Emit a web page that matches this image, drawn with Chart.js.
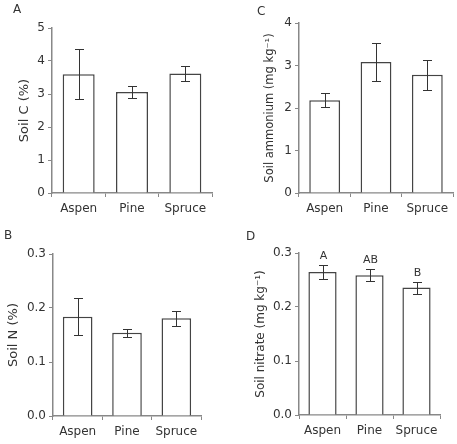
<!DOCTYPE html>
<html>
<head>
<meta charset="utf-8">
<script src="https://cdn.jsdelivr.net/npm/chart.js@4"></script>
<style>
    body { margin: 0; background: #fff; }
    #page { position: relative; width: 457px; height: 444px; font-family: "DejaVu Sans", sans-serif; color: #333; }
    .panel { position: absolute; }
    .letra { position: absolute; font-size: 12px; line-height: 12px; }
</style>
</head>
<body>
<div id="page">
    <canvas id="grafica-a" class="panel" width="228" height="222" style="left:0;top:0"></canvas>
    <canvas id="grafica-c" class="panel" width="229" height="222" style="left:228px;top:0"></canvas>
    <canvas id="grafica-b" class="panel" width="228" height="222" style="left:0;top:222px"></canvas>
    <canvas id="grafica-d" class="panel" width="229" height="222" style="left:228px;top:222px"></canvas>
    <div class="letra" style="left:13px;top:3px">A</div>
    <div class="letra" style="left:257px;top:5px">C</div>
    <div class="letra" style="left:4px;top:229px">B</div>
    <div class="letra" style="left:246px;top:230px">D</div>
</div>
<script>
// datos
const bosques = ["Aspen", "Pine", "Spruce"];

const soilC = [3.6, 3.06, 3.62];
const soilCErr = [0.76, 0.19, 0.23];
const ticksC = [0, 1, 2, 3, 4, 5];

const amonio = [2.18, 3.08, 2.78];
const amonioErr = [0.165, 0.445, 0.35];
const ticksAmonio = [0, 1, 2, 3, 4];

const soilN = [0.184, 0.154, 0.181];
const soilNErr = [0.034, 0.008, 0.0135];
const ticksN = [0, 0.1, 0.2, 0.3];

const nitrato = [0.265, 0.259, 0.236];
const nitratoErr = [0.013, 0.011, 0.011];
const letrasNitrato = ["A", "AB", "B"];

Chart.defaults.font.family = "DejaVu Sans";
Chart.defaults.color = "#333";

// barras de error (y letras) dibujadas con la escala y
const barrasError = {
    id: "barrasError",
    afterDatasetsDraw(chart, args, opts) {
        const ctx = chart.ctx;
        const y = chart.scales.y;
        const meta = chart.getDatasetMeta(0);
        const valores = chart.data.datasets[0].data;
        ctx.save();
        ctx.strokeStyle = "#333";
        ctx.lineWidth = 1;
        meta.data.forEach((bar, i) => {
            const x = Math.round(bar.x) + 0.5;
            const arriba = Math.round(y.getPixelForValue(valores[i] + opts.err[i])) + 0.5;
            const abajo = Math.round(y.getPixelForValue(valores[i] - opts.err[i])) + 0.5;
            ctx.beginPath();
            ctx.moveTo(x, arriba);
            ctx.lineTo(x, abajo);
            ctx.moveTo(x - 4.5, arriba);
            ctx.lineTo(x + 4.5, arriba);
            ctx.moveTo(x - 4.5, abajo);
            ctx.lineTo(x + 4.5, abajo);
            ctx.stroke();
            if (opts.letras) {
                ctx.fillStyle = "#333";
                ctx.font = "11px 'DejaVu Sans'";
                ctx.textAlign = "center";
                ctx.textBaseline = "bottom";
                ctx.fillText(opts.letras[i], x, arriba - 4);
            }
        });
        ctx.restore();
    }
};

function grafica(id, valores, err, config) {
    const ctx = document.getElementById(id).getContext("2d");
    return new Chart(ctx, {
        type: "bar",
        data: {
            labels: bosques,
            datasets: [{
                data: valores,
                backgroundColor: "#fff",
                borderColor: "#444",
                borderWidth: 1.5,
                barPercentage: 0.6,
                categoryPercentage: 1
            }]
        },
        options: {
            responsive: false,
            animation: false,
            layout: { padding: config.padding },
            plugins: {
                legend: { display: false },
                tooltip: { enabled: false },
                barrasError: { err: err, letras: config.letras }
            },
            scales: {
                x: {
                    grid: { offset: true, drawOnChartArea: false, tickLength: 4, color: "#888" },
                    border: { color: "#888", width: 1.5 },
                    ticks: { font: { size: 12 }, padding: 5, maxRotation: 0 },
                    afterFit: s => { s.height = config.alturaX; }
                },
                y: {
                    min: config.min,
                    max: config.max,
                    afterBuildTicks: s => { s.ticks = config.ticks.map(v => ({ value: v })); },
                    grid: { drawOnChartArea: false, tickLength: 4, color: "#888" },
                    border: { color: "#888", width: 1.5 },
                    ticks: {
                        font: { size: 12 },
                        padding: 3,
                        callback: config.formato
                    },
                    title: {
                        display: true,
                        text: config.titulo,
                        font: { size: config.tamTitulo }
                    },
                    afterFit: s => { s.width = config.anchoY; }
                }
            }
        },
        plugins: [barrasError]
    });
}

grafica("grafica-a", soilC, soilCErr, {
    titulo: "Soil C (%)", tamTitulo: 13, min: 0, max: 5, ticks: ticksC,
    formato: v => v.toString(),
    padding: { left: 13, right: 16, top: 28, bottom: 0 }, anchoY: 39, alturaX: 29
});

grafica("grafica-c", amonio, amonioErr, {
    titulo: "Soil ammonium (mg kg\u207B\u00B9)", tamTitulo: 11.5, min: 0, max: 4, ticks: ticksAmonio,
    formato: v => v.toString(),
    padding: { left: 31, right: 4, top: 23, bottom: 0 }, anchoY: 40, alturaX: 29
});

grafica("grafica-b", soilN, soilNErr, {
    titulo: "Soil N (%)", tamTitulo: 13, min: 0, max: 0.3, ticks: ticksN,
    formato: v => v.toFixed(1),
    padding: { left: 2, right: 27, top: 32, bottom: 0 }, anchoY: 51, alturaX: 28
});

grafica("grafica-d", nitrato, nitratoErr, {
    titulo: "Soil nitrate (mg kg\u207B\u00B9)", tamTitulo: 12, min: 0, max: 0.3, ticks: ticksN,
    formato: v => v.toFixed(1), letras: letrasNitrato,
    padding: { left: 22, right: 17, top: 31, bottom: 0 }, anchoY: 49, alturaX: 29
});
</script>
</body>
</html>
